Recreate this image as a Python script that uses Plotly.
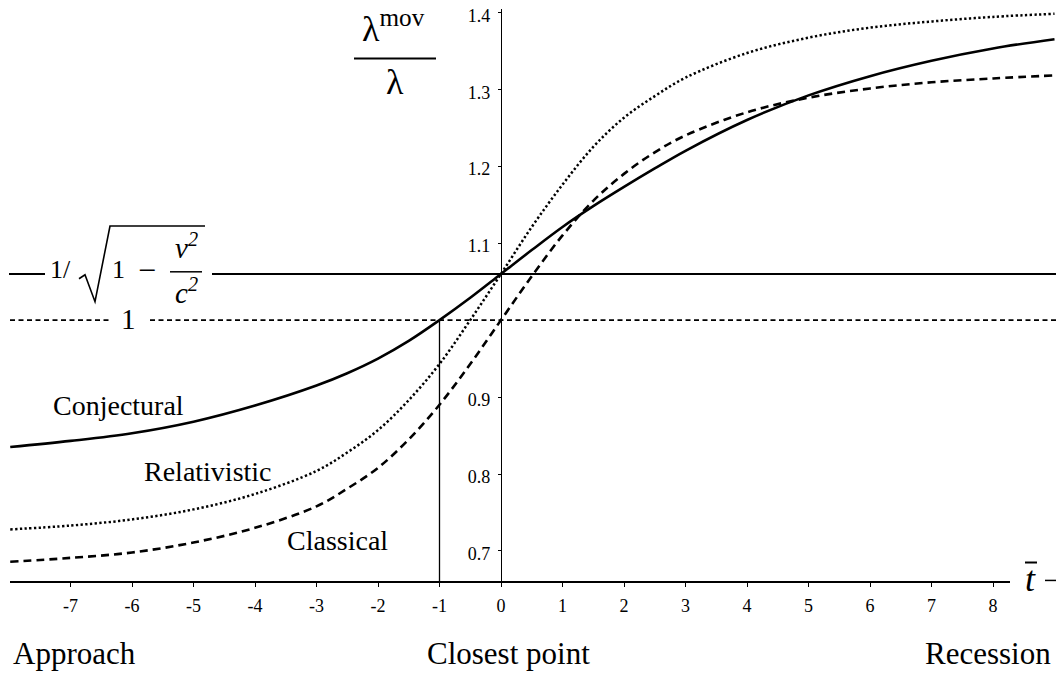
import plotly.graph_objects as go

W, H = 1059, 677

# ---- data ----
t = [-7.98, -7, -6, -5, -4, -3, -2.5, -2, -1.5, -1, -0.5, 0, 0.5, 1, 1.5, 2, 2.5, 3, 4, 5, 6, 7, 8, 9.0]
conjectural = [0.835, 0.843, 0.853, 0.868, 0.889, 0.915, 0.931, 0.950, 0.973, 1.000, 1.029, 1.060,
               1.091, 1.121, 1.148, 1.173, 1.197, 1.220, 1.260, 1.292, 1.317, 1.337, 1.353, 1.365]
relativistic = [0.728, 0.733, 0.741, 0.754, 0.774, 0.804, 0.828, 0.857, 0.896, 0.943, 1.000, 1.060,
                1.121, 1.176, 1.225, 1.263, 1.291, 1.315, 1.347, 1.367, 1.380, 1.388, 1.394, 1.398]
classical = [0.686, 0.691, 0.698, 0.711, 0.730, 0.758, 0.781, 0.808, 0.845, 0.890, 0.943, 1.000,
             1.057, 1.110, 1.155, 1.190, 1.218, 1.240, 1.270, 1.289, 1.301, 1.309, 1.314, 1.318]
gamma_level = 1.06
unit_level = 1.0
t_cross = -1.0

x_tickvals = list(range(-7, 9))
x_ticktext = [str(v) for v in x_tickvals]
y_tickvals = [0.7, 0.8, 0.9, 1.1, 1.2, 1.3, 1.4]
y_ticktext = ["0.7", "0.8", "0.9", "1.1", "1.2", "1.3", "1.4"]

# ---- pixel <-> data calibration ----
X0PX, XS = 501.0, 61.5      # pixel of t=0, pixels per unit t
Y1PX, YS = 318.5, 773.0     # pixel of ratio=1, pixels per unit ratio


def dx(p):
    return (p - X0PX) / XS


def dy(p):
    return 1 - (p - Y1PX) / YS


def px(p):
    return p / W


def py(p):
    return 1 - p / H


SERIF = "Liberation Serif"

fig = go.Figure()
fig.add_trace(go.Scatter(x=t, y=conjectural, mode="lines", name="Conjectural",
                         line=dict(color="black", width=2.6, shape="spline"),
                         xaxis="x", yaxis="y", hoverinfo="skip"))
fig.add_trace(go.Scatter(x=t, y=relativistic, mode="lines", name="Relativistic",
                         line=dict(color="black", width=2.5, shape="spline", dash="2.3px,2.4px"),
                         xaxis="x", yaxis="y", hoverinfo="skip"))
fig.add_trace(go.Scatter(x=t, y=classical, mode="lines", name="Classical",
                         line=dict(color="black", width=2.6, shape="spline", dash="8px,5px"),
                         xaxis="x", yaxis="y", hoverinfo="skip"))
# carrier for the visible axes
fig.add_trace(go.Scatter(x=[0], y=[1], mode="markers", marker=dict(opacity=0),
                         xaxis="x2", yaxis="y2", hoverinfo="skip", showlegend=False))

shapes = []
# horizontal reference levels
shapes.append(dict(type="line", xref="paper", yref="y", x0=px(9), x1=px(45),
                   y0=gamma_level, y1=gamma_level, line=dict(color="black", width=2)))
shapes.append(dict(type="line", xref="paper", yref="y", x0=px(212), x1=px(1056),
                   y0=gamma_level, y1=gamma_level, line=dict(color="black", width=2)))
shapes.append(dict(type="line", xref="paper", yref="y", x0=px(10), x1=px(110),
                   y0=unit_level, y1=unit_level, line=dict(color="black", width=1.6, dash="5px,3.5px")))
shapes.append(dict(type="line", xref="paper", yref="y", x0=px(150), x1=px(1056),
                   y0=unit_level, y1=unit_level, line=dict(color="black", width=1.6, dash="5px,3.5px")))
# vertical drop line at the crossing point
shapes.append(dict(type="line", xref="x", yref="y", x0=t_cross, x1=t_cross,
                   y0=dy(581), y1=unit_level, line=dict(color="black", width=1.3)))
# fraction bar of the y label
shapes.append(dict(type="line", xref="paper", yref="paper", x0=px(354), x1=px(436),
                   y0=py(55.7), y1=py(55.7), line=dict(color="black", width=2)))
# radical sign
rad = [(79, 277), (85, 273), (95, 300), (110, 224), (205, 224)]
path = "M " + " L ".join(f"{px(a):.5f},{py(b):.5f}" for a, b in rad)
shapes.append(dict(type="path", xref="paper", yref="paper", path=path,
                   line=dict(color="black", width=1.6)))
# v^2 / c^2 bar
shapes.append(dict(type="line", xref="paper", yref="paper", x0=px(170), x1=px(202),
                   y0=py(270), y1=py(270), line=dict(color="black", width=1.5)))
# macron over t and trailing dash
shapes.append(dict(type="line", xref="paper", yref="paper", x0=px(1025), x1=px(1037),
                   y0=py(562), y1=py(562), line=dict(color="black", width=2)))
shapes.append(dict(type="line", xref="paper", yref="paper", x0=px(1045), x1=px(1056),
                   y0=py(580), y1=py(580), line=dict(color="black", width=1.5)))

ann = []


def label(text, cx, cy, size, italic=False):
    ann.append(dict(text=(f"<i>{text}</i>" if italic else text), xref="paper", yref="paper",
                    x=px(cx), y=py(cy), xanchor="center", yanchor="middle", showarrow=False,
                    font=dict(family=SERIF, size=size, color="black")))


label("Conjectural", 118, 404, 28)
label("Relativistic", 208, 471, 28)
label("Classical", 337, 540, 28)
label("Approach", 74, 653, 31)
label("Closest point", 508, 653, 31)
label("Recession", 988, 653, 31)
label("λ<sup>mov</sup>", 393, 24, 36)
label("λ", 395, 79, 36)
label("1/", 60, 268, 26)
label("1", 118.5, 268, 26)
label("−", 147, 268, 32)
label("v<sup>2</sup>", 186, 244, 29, italic=True)
label("c<sup>2</sup>", 186, 289, 29, italic=True)
label("1", 128, 317, 29)
label("t", 1030, 579, 36, italic=True)

tickfont = dict(family=SERIF, size=18, color="black")
fig.update_layout(
    width=W, height=H, margin=dict(l=0, r=0, t=0, b=0),
    paper_bgcolor="white", plot_bgcolor="rgba(0,0,0,0)", showlegend=False,
    xaxis=dict(domain=[0, 1], range=[dx(0), dx(W)], visible=False),
    yaxis=dict(domain=[0, 1], range=[dy(H), dy(0)], visible=False),
    xaxis2=dict(domain=[px(10), px(1010)], range=[dx(10), dx(1010)], anchor="y2",
                showline=True, linecolor="black", linewidth=2, ticks="outside", ticklen=4,
                tickwidth=1, tickcolor="black", tickvals=x_tickvals, ticktext=x_ticktext,
                tickfont=tickfont, showgrid=False, zeroline=False, ticklabelstandoff=3,
                ticklabeloverflow="allow"),
    yaxis2=dict(domain=[py(581), py(6)], range=[dy(581), dy(6)], anchor="free",
                position=px(501), side="left", showline=True, linecolor="black", linewidth=1.3,
                ticks="outside", ticklen=3, tickwidth=1, tickcolor="black",
                tickvals=y_tickvals, ticktext=y_ticktext, tickfont=tickfont,
                showgrid=False, zeroline=False, ticklabelstandoff=4, ticklabelshift=3,
                ticklabeloverflow="allow"),
    shapes=shapes, annotations=ann,
)

fig.write_html("out.html", config={"displayModeBar": False},
               post_script="document.body.style.margin='0px';document.body.style.overflow='hidden';")
